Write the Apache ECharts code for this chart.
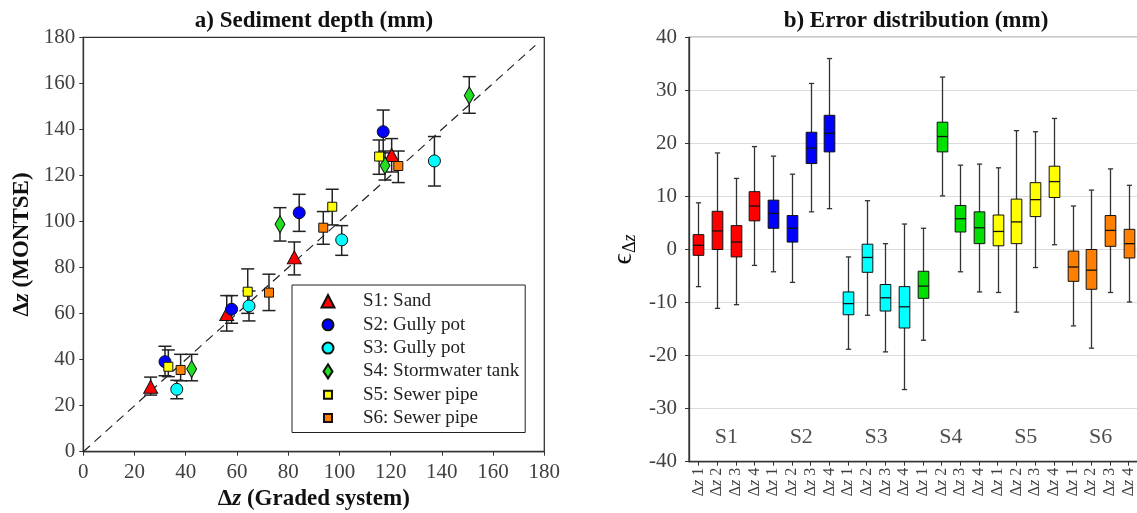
<!DOCTYPE html>
<html><head><meta charset="utf-8">
<script src="https://cdn.jsdelivr.net/npm/echarts@6/dist/echarts.min.js"></script>
<style>html,body{margin:0;padding:0;background:#fff;overflow:hidden}#c{width:1137px;height:513px}</style>
</head><body><div id="c"></div>
<script>
const FONT = '"Liberation Serif", "Times New Roman", serif';

// ---------- a) Sediment depth ----------
const sampleNames = ['S1: Sand', 'S2: Gully pot', 'S3: Gully pot', 'S4: Stormwater tank', 'S5: Sewer pipe', 'S6: Sewer pipe'];
const sampleColors = ['#ff0000', '#0000ff', '#00ffff', '#22dd22', '#ffff00', '#ff8000'];
// each point: [graded system, MONTSE, error low, error high]
const s1Points = [[26.3, 28.2, 24.6, 32.4], [56.0, 59.8, 52.4, 67.8], [82.4, 84.4, 76.8, 91.1], [120.4, 128.9, 121.5, 136.0]];
const s2Points = [[31.9, 39.1, 33.0, 45.8], [57.9, 61.9, 55.8, 67.8], [84.3, 103.8, 95.7, 111.8], [117.1, 139.0, 129.8, 148.4]];
const s3Points = [[36.5, 27.1, 23.0, 31.0], [64.7, 63.3, 56.8, 69.8], [100.9, 92.0, 85.3, 98.2], [137.1, 126.3, 115.4, 136.9]];
const s4Points = [[42.3, 35.9, 30.8, 42.3], [76.8, 98.8, 91.5, 106.0], [117.8, 124.3, 118.0, 130.6], [150.7, 154.7, 147.0, 162.9]];
const s5Points = [[33.2, 36.9, 32.6, 44.2], [64.2, 69.5, 60.1, 79.4], [97.2, 106.4, 98.5, 114.0], [115.5, 128.2, 120.5, 135.4]];
const s6Points = [[38.0, 35.5, 30.8, 42.3], [72.5, 69.1, 61.3, 77.1], [93.7, 97.3, 90.1, 104.3], [123.0, 124.1, 116.9, 130.6]];
const identityLine = [0, 176.5];
const axisATicks = [0, 180, 20];

// ---------- b) Error distribution ----------
const groupLabels = ['S1', 'S2', 'S3', 'S4', 'S5', 'S6'];
const boxCategories = ['Δz 1', 'Δz 2', 'Δz 3', 'Δz 4', 'Δz 1', 'Δz 2', 'Δz 3', 'Δz 4', 'Δz 1', 'Δz 2', 'Δz 3', 'Δz 4',
                       'Δz 1', 'Δz 2', 'Δz 3', 'Δz 4', 'Δz 1', 'Δz 2', 'Δz 3', 'Δz 4', 'Δz 1', 'Δz 2', 'Δz 3', 'Δz 4'];
// [min, Q1, median, Q3, max]
const boxS1 = [[-7.0, -1.1, 0.8, 2.8, 8.8], [-11.1, 0.0, 3.5, 7.2, 18.2], [-10.4, -1.4, 1.4, 4.5, 13.4], [-3.0, 5.4, 8.2, 10.9, 19.4]];
const boxS2 = [[-4.2, 4.0, 6.8, 9.3, 17.6], [-6.2, 1.4, 4.0, 6.4, 14.2], [7.1, 16.2, 19.1, 22.1, 31.3], [7.7, 18.4, 21.9, 25.3, 36.0]];
const boxS3 = [[-18.8, -12.3, -10.2, -8.0, -1.4], [-12.4, -4.3, -1.5, 1.0, 9.2], [-19.3, -11.6, -9.1, -6.6, 1.1], [-26.4, -14.8, -10.8, -7.0, 4.8]];
const boxS4 = [[-17.1, -9.2, -6.9, -4.1, 4.0], [10.1, 18.4, 21.3, 24.0, 32.5], [-4.2, 3.3, 5.8, 8.3, 15.9], [-8.0, 1.1, 4.1, 7.1, 16.1]];
const boxS5 = [[-8.1, 0.7, 3.4, 6.5, 15.4], [-11.8, 1.1, 5.2, 9.5, 22.4], [-3.4, 6.2, 9.4, 12.6, 22.2], [0.9, 9.8, 12.8, 15.7, 24.7]];
const boxS6 = [[-14.4, -6.0, -3.3, -0.3, 8.2], [-18.6, -7.5, -3.9, 0.0, 11.2], [-8.1, 0.6, 3.6, 6.4, 15.2], [-9.9, -1.6, 1.1, 3.8, 12.1]];
const boxColors = ['#ff0000', '#0000ff', '#00ffff', '#00e000', '#ffff00', '#ff8000'];
const axisBTicks = [-40, 40, 10];
const groupLabelY = -35.3;

const allPoints = [s1Points, s2Points, s3Points, s4Points, s5Points, s6Points];
const allBoxes = [boxS1, boxS2, boxS3, boxS4, boxS5, boxS6];

const symbols = ['triangle', 'circle', 'circle', 'diamond', 'rect', 'rect'];
const symbolSizes = [[14, 13], 12, 12, [10, 17], 9, 9];
const legendIcons = [
  'path://M0,0M14,14M7,0.5L13.5,13L0.5,13Z',
  'path://M0,0M14,14M1.5,7A5.5,5.5,0,1,1,12.5,7A5.5,5.5,0,1,1,1.5,7Z',
  'path://M0,0M14,14M1.5,7A5.5,5.5,0,1,1,12.5,7A5.5,5.5,0,1,1,1.5,7Z',
  'path://M0,0M14,14M7,0L11.5,7L7,14L2.5,7Z',
  'path://M0,0M14,14M3,3L11,3L11,11L3,11Z',
  'path://M0,0M14,14M3,3L11,3L11,11L3,11Z'
];

const chart = echarts.init(document.getElementById('c'), null, {renderer: 'canvas'});

const tickLabel = {fontFamily: FONT, fontSize: 21, color: '#404040'};
const axisLineStyle = {onZero: false, lineStyle: {color: '#333', width: 1.3}};
const nameRich = {
  n: {fontFamily: FONT, fontSize: 23, fontWeight: 'bold', color: '#111'},
  z: {fontFamily: FONT, fontSize: 23, fontWeight: 'bold', fontStyle: 'italic', color: '#111'}
};

const series = [];

// identity line
series.push({
  type: 'line', xAxisIndex: 0, yAxisIndex: 0, silent: true, symbol: 'none', z: 1,
  data: [[identityLine[0], identityLine[0]], [identityLine[1], identityLine[1]]],
  lineStyle: {color: '#222', width: 1.2, type: [9, 6]}
});

// error bars
allPoints.forEach((pts, i) => {
  series.push({
    type: 'custom', xAxisIndex: 0, yAxisIndex: 0, silent: true, z: 2,
    data: pts.map(p => [p[0], p[2], p[3]]),
    encode: {x: 0, y: [1, 2]},
    renderItem: (params, api) => {
      const lo = api.coord([api.value(0), api.value(1)]);
      const hi = api.coord([api.value(0), api.value(2)]);
      const hw = 6.5;
      const st = {stroke: '#222', lineWidth: 1.5};
      return {type: 'group', children: [
        {type: 'line', shape: {x1: lo[0], y1: lo[1], x2: hi[0], y2: hi[1]}, style: st},
        {type: 'line', shape: {x1: lo[0] - hw, y1: lo[1], x2: lo[0] + hw, y2: lo[1]}, style: st},
        {type: 'line', shape: {x1: hi[0] - hw, y1: hi[1], x2: hi[0] + hw, y2: hi[1]}, style: st}
      ]};
    }
  });
});

// markers
allPoints.forEach((pts, i) => {
  series.push({
    type: 'scatter', name: sampleNames[i], xAxisIndex: 0, yAxisIndex: 0, z: 5,
    symbol: symbols[i], symbolSize: symbolSizes[i],
    data: pts.map(p => [p[0], p[1]]),
    itemStyle: {color: sampleColors[i], borderColor: '#111', borderWidth: 1, opacity: 1}
  });
});

// boxes
allBoxes.forEach((boxes, g) => {
  series.push({
    type: 'custom', xAxisIndex: 1, yAxisIndex: 1, silent: true, z: 3,
    data: boxes.map((b, j) => [g * 4 + j].concat(b)),
    encode: {x: 0, y: [1, 2, 3, 4, 5]},
    renderItem: (params, api) => {
      const xi = api.value(0);
      const lo = api.coord([xi, api.value(1)]);
      const q1 = api.coord([xi, api.value(2)]);
      const md = api.coord([xi, api.value(3)]);
      const q3 = api.coord([xi, api.value(4)]);
      const hi = api.coord([xi, api.value(5)]);
      const band = api.size([1, 0])[0];
      const bw = band * 0.57;
      const cw = band * 0.14;
      const x = Math.round(lo[0]) + 0.5;
      const ws = {stroke: '#333', lineWidth: 1.3};
      return {type: 'group', children: [
        {type: 'line', shape: {x1: x, y1: hi[1], x2: x, y2: lo[1]}, style: ws},
        {type: 'line', shape: {x1: x - cw, y1: hi[1], x2: x + cw, y2: hi[1]}, style: ws},
        {type: 'line', shape: {x1: x - cw, y1: lo[1], x2: x + cw, y2: lo[1]}, style: ws},
        {type: 'rect', shape: {x: x - bw / 2, y: q3[1], width: bw, height: q1[1] - q3[1]},
          style: {fill: boxColors[g], stroke: '#111', lineWidth: 1}},
        {type: 'line', shape: {x1: x - bw / 2, y1: md[1], x2: x + bw / 2, y2: md[1]}, style: {stroke: '#111', lineWidth: 1.3}}
      ]};
    }
  });
});

// group labels
series.push({
  type: 'scatter', xAxisIndex: 2, yAxisIndex: 1, silent: true, symbolSize: 0,
  data: groupLabels.map((g, i) => ({value: [i * 4 + 1.5, groupLabelY], label: {formatter: g}})),
  label: {show: true, position: 'inside', fontFamily: FONT, fontSize: 22, color: '#222'}
});

const option = {
  backgroundColor: '#fff',
  animation: false,
  textStyle: {fontFamily: FONT},
  title: [
    {text: 'a) Sediment depth (mm)', left: 314, top: 10, textAlign: 'center', padding: 0,
      textStyle: {fontFamily: FONT, fontSize: 23, fontWeight: 'bold', color: '#111'}},
    {text: 'b) Error distribution (mm)', left: 916, top: 10, textAlign: 'center', padding: 0,
      textStyle: {fontFamily: FONT, fontSize: 23, fontWeight: 'bold', color: '#111'}}
  ],
  legend: {
    orient: 'vertical', left: 292, top: 285,
    padding: [7, 6, 5, 28],
    borderColor: '#222', borderWidth: 1, backgroundColor: '#fff',
    itemWidth: 14, itemHeight: 14, itemGap: 4.3,
    data: sampleNames.map((n, i) => ({name: n, icon: legendIcons[i]})),
    textStyle: {fontFamily: FONT, fontSize: 19, lineHeight: 19, color: '#222', padding: [0, 0, 0, 23]},
    selectedMode: false
  },
  grid: [
    {left: 83.3, top: 37.3, width: 461, height: 414.4, outerBoundsMode: 'none', containLabel: false,
      show: true, borderColor: '#333', borderWidth: 1.3, backgroundColor: 'transparent'},
    {left: 689, top: 37.3, width: 449, height: 424.4, outerBoundsMode: 'none', containLabel: false,
      show: true, borderColor: '#333', borderWidth: 1.3, backgroundColor: 'transparent'}
  ],
  xAxis: [
    {type: 'value', gridIndex: 0, min: axisATicks[0], max: axisATicks[1], interval: axisATicks[2],
      splitLine: {show: false}, axisLine: axisLineStyle,
      axisTick: {show: true, inside: false, length: 4, lineStyle: {color: '#333'}},
      axisLabel: Object.assign({margin: 10}, tickLabel),
      name: '{n|Δ}{z|z}{n| (Graded system)}', nameLocation: 'middle', nameGap: 36,
      nameTextStyle: {rich: nameRich}},
    {type: 'category', gridIndex: 1, data: boxCategories, boundaryGap: true,
      axisLine: axisLineStyle,
      axisTick: {show: true, alignWithLabel: true, length: 4, lineStyle: {color: '#333'}},
      axisLabel: {rotate: 90, interval: 0, margin: 6, fontFamily: FONT, fontSize: 16, color: '#404040',
        formatter: v => '{n|Δ}{z|z}{n| ' + v.split(' ')[1] + '}',
        rich: {n: {fontFamily: FONT, fontSize: 16, color: '#404040'}, z: {fontFamily: FONT, fontSize: 16, fontStyle: 'italic', color: '#404040'}}},
      splitLine: {show: false}},
    {type: 'value', gridIndex: 1, min: -0.5, max: 23.5, show: false, axisLine: {onZero: false}}
  ],
  yAxis: [
    {type: 'value', gridIndex: 0, min: axisATicks[0], max: axisATicks[1], interval: axisATicks[2],
      splitLine: {show: false}, axisLine: axisLineStyle,
      axisTick: {show: true, inside: false, length: 4, lineStyle: {color: '#333'}},
      axisLabel: Object.assign({margin: 8}, tickLabel),
      name: '{n|Δ}{z|z}{n| (MONTSE)}', nameLocation: 'middle', nameGap: 50, nameRotate: 90,
      nameTextStyle: {rich: nameRich}},
    {type: 'value', gridIndex: 1, min: axisBTicks[0], max: axisBTicks[1], interval: axisBTicks[2],
      axisLine: axisLineStyle,
      axisTick: {show: true, inside: false, length: 4, lineStyle: {color: '#333'}},
      axisLabel: Object.assign({margin: 12}, tickLabel),
      splitLine: {show: true, lineStyle: {color: '#dcdcdc', width: 1.2}},
      name: '{e|ϵ}{s|Δ}{sz|z}', nameLocation: 'middle', nameGap: 50, nameRotate: 90,
      nameTextStyle: {rich: {
        e: {fontFamily: FONT, fontSize: 28, color: '#111'},
        s: {fontFamily: FONT, fontSize: 18, color: '#111', padding: [12, 0, 0, 0]},
        sz: {fontFamily: FONT, fontSize: 18, fontStyle: 'italic', color: '#111', padding: [12, 0, 0, 0]}
      }}}
  ],
  series: series
};
chart.setOption(option);
</script>
</body></html>
